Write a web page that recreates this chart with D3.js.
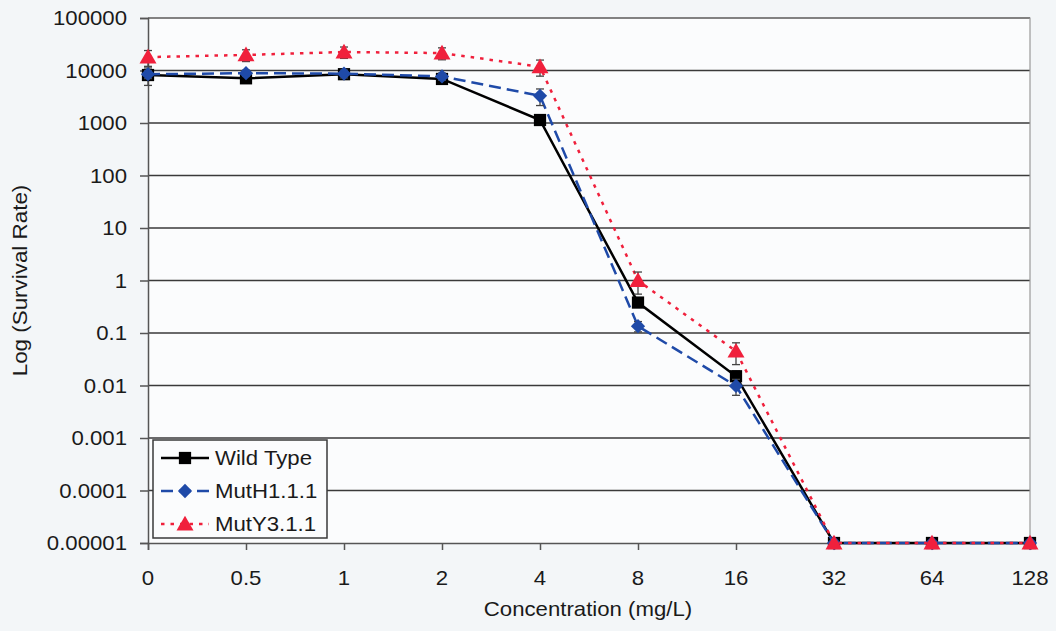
<!DOCTYPE html>
<html>
<head>
<meta charset="utf-8">
<script src="https://cdn.jsdelivr.net/npm/d3@7"></script>
<style>
  html, body { margin: 0; padding: 0; background: #f3f6f8; }
  svg { display: block; }
  text { font-family: "Liberation Sans", Arial, sans-serif; fill: #1a1a1a; }
</style>
</head>
<body>
<svg id="chart" width="1056" height="631"></svg>
<script>
// Concentration categories (mg/L)
const concentrations = ["0", "0.5", "1", "2", "4", "8", "16", "32", "64", "128"];

// Survival rate per strain
const wildType = [8200, 7100, 8500, 6900, 1140, 0.38, 0.015, 0.00001, 0.00001, 0.00001];
const mutH = [8500, 8900, 8700, 7700, 3300, 0.135, 0.0098, 0.00001, 0.00001, 0.00001];
const mutY = [18000, 19800, 22500, 21500, 11800, 1.0, 0.045, 0.00001, 0.00001, 0.00001];

// Error bar half-widths (same units as values)
const wildTypeErr = [3000, 900, 1500, 900, 150, 0.05, 0.004, 0, 0, 0];
const mutHErr = [1500, 1200, 1500, 1200, 1150, 0.03, 0.0033, 0, 0, 0];
const mutYErr = [6000, 5000, 5500, 5500, 4000, 0.45, 0.02, 0, 0, 0];

const yTicks = [100000, 10000, 1000, 100, 10, 1, 0.1, 0.01, 0.001, 0.0001, 0.00001];
const yTickLabels = ["100000", "10000", "1000", "100", "10", "1", "0.1", "0.01", "0.001", "0.0001", "0.00001"];

const seriesNames = ["Wild Type", "MutH1.1.1", "MutY3.1.1"];

const svg = d3.select("#chart");
const plotLeft = 148, plotRight = 1030, plotTop = 18, plotBottom = 543;
const SX = 1.11; // horizontal text stretch

const x = d3.scalePoint().domain(concentrations).range([plotLeft, plotRight]);
const y = d3.scaleLog().domain([1e-5, 1e5]).range([plotBottom, plotTop]);

function label(g, px, py, str, anchor, size) {
  return g.append("text")
    .attr("transform", `translate(${px},${py}) scale(${SX},1)`)
    .attr("text-anchor", anchor)
    .style("font-size", (size || 20) + "px")
    .text(str);
}

// plot background
svg.append("rect").attr("x", plotLeft).attr("y", plotTop)
  .attr("width", plotRight - plotLeft).attr("height", plotBottom - plotTop)
  .attr("fill", "#fbfcfd");

// horizontal gridlines
svg.append("g").selectAll("line").data(yTicks.slice(0, -1)).join("line")
  .attr("x1", plotLeft).attr("x2", plotRight)
  .attr("y1", d => y(d)).attr("y2", d => y(d))
  .attr("stroke", "#3a3a3a").attr("stroke-width", 1.5);

// plot border (top/right)
svg.append("path")
  .attr("d", `M${plotLeft},${plotTop}H${plotRight}V${plotBottom}`)
  .attr("fill", "none").attr("stroke", "#9a9a9a").attr("stroke-width", 1.2);

// y axis with ticks
const yAxis = d3.axisLeft(y).tickValues(yTicks).tickSize(8).tickFormat("");
const yg = svg.append("g").attr("transform", `translate(${plotLeft},0)`).call(yAxis);
yg.select(".domain").attr("stroke", "#555").attr("stroke-width", 1.5);
yg.selectAll(".tick line").attr("stroke", "#555").attr("stroke-width", 1.5);
yTicks.forEach((v, i) => label(svg, 127, y(v) + 7, yTickLabels[i], "end"));

// x axis with ticks
const xAxis = d3.axisBottom(x).tickSize(7).tickFormat("");
const xg = svg.append("g").attr("transform", `translate(0,${plotBottom})`).call(xAxis);
xg.select(".domain").attr("stroke", "#555").attr("stroke-width", 1.5);
xg.selectAll(".tick line").attr("stroke", "#555").attr("stroke-width", 1.5);
concentrations.forEach(c => label(svg, x(c), 585, c, "middle"));

// axis titles
label(svg, 588, 616, "Concentration (mg/L)", "middle", 20);
svg.append("text")
  .attr("transform", `translate(27,${(plotTop + plotBottom) / 2}) rotate(-90) scale(1.12,1)`)
  .attr("text-anchor", "middle")
  .style("font-size", "20px")
  .text("Log (Survival Rate)");

const series = [
  { name: seriesNames[0], values: wildType, err: wildTypeErr, color: "#000000", dash: null, marker: "square" },
  { name: seriesNames[1], values: mutH, err: mutHErr, color: "#1f4aa8", dash: "12,6", marker: "diamond" },
  { name: seriesNames[2], values: mutY, err: mutYErr, color: "#f0203c", dash: "3.5,6", marker: "triangle" }
];

const symbolFor = {
  square: d3.symbol().type(d3.symbolSquare).size(150),
  diamond: d3.symbol().type(d3.symbolDiamond2).size(130),
  triangle: d3.symbol().type(d3.symbolTriangle).size(125)
};

const line = d3.line().x(d => x(d.c)).y(d => y(d.v));

series.forEach(s => {
  const pts = concentrations.map((c, i) => ({ c, v: s.values[i], e: s.err[i] }));
  const g = svg.append("g");
  g.append("path").datum(pts).attr("d", line)
    .attr("fill", "none").attr("stroke", s.color).attr("stroke-width", 2.5)
    .attr("stroke-dasharray", s.dash);

  // error bars
  const eb = g.append("g").attr("stroke", "#444").attr("stroke-width", 1.3);
  pts.filter(p => p.e > 0).forEach(p => {
    const px = x(p.c);
    const hi = y(p.v + p.e), lo = y(Math.max(p.v - p.e, 1e-6));
    eb.append("line").attr("x1", px).attr("x2", px).attr("y1", hi).attr("y2", lo);
    eb.append("line").attr("x1", px - 4).attr("x2", px + 4).attr("y1", hi).attr("y2", hi);
    eb.append("line").attr("x1", px - 4).attr("x2", px + 4).attr("y1", lo).attr("y2", lo);
  });

  g.selectAll(".pt").data(pts).join("path")
    .attr("transform", d => `translate(${x(d.c)},${y(d.v) + (s.marker === "triangle" ? 1.5 : 0)})`)
    .attr("d", symbolFor[s.marker]())
    .attr("fill", s.color);
});

// legend
const lg = svg.append("g");
lg.append("rect").attr("x", 153).attr("y", 440).attr("width", 174).attr("height", 98)
  .attr("fill", "#fbfcfd").attr("stroke", "#3a3a3a").attr("stroke-width", 1.5);
series.forEach((s, i) => {
  const ly = 458 + i * 33;
  lg.append("line").attr("x1", 161).attr("x2", 209).attr("y1", ly).attr("y2", ly)
    .attr("stroke", s.color).attr("stroke-width", 2.5).attr("stroke-dasharray", s.dash);
  lg.append("path").attr("transform", `translate(185,${ly + (s.marker === "triangle" ? 1.5 : 0)})`)
    .attr("d", symbolFor[s.marker]()).attr("fill", s.color);
  label(lg, 215, ly + 7, s.name, "start");
});
</script>
</body>
</html>
